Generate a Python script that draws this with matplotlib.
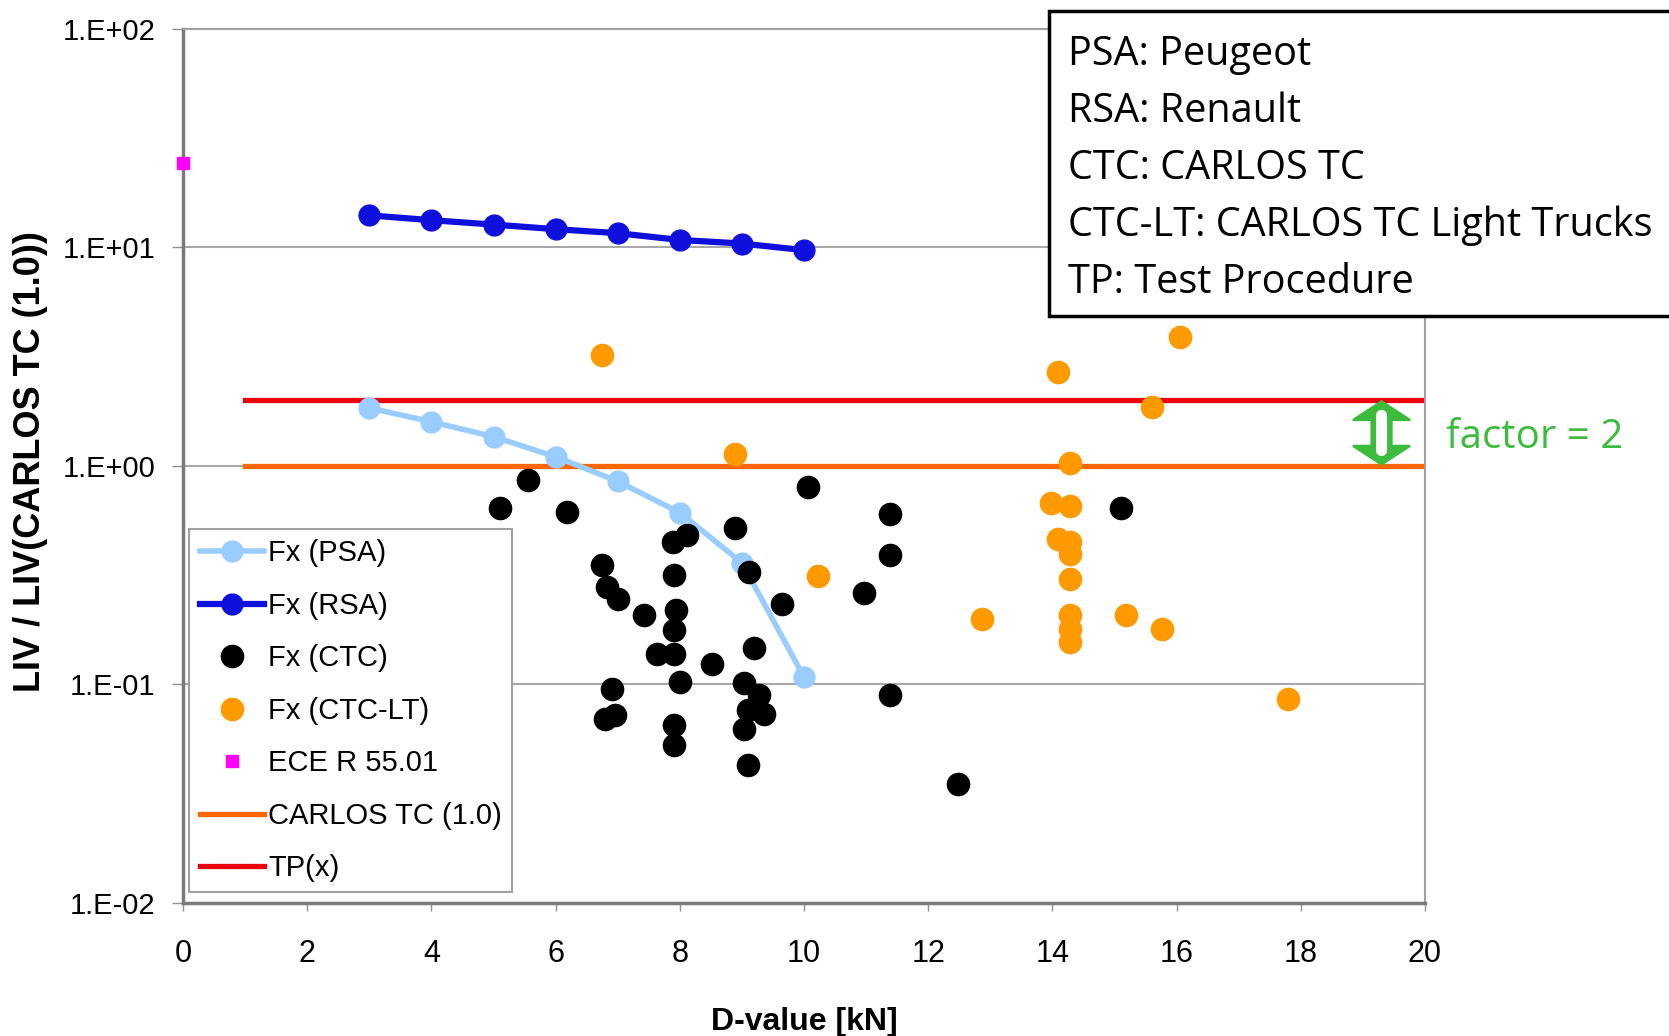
import numpy as np
import matplotlib
matplotlib.use('Agg')
import matplotlib.pyplot as plt
from matplotlib.patches import Rectangle

plt.rcParams['font.family'] = ['Liberation Sans', 'DejaVu Sans']

# Fx (PSA) and Fx (RSA) lines
d_psa = [3, 4, 5, 6, 7, 8, 9, 10]
liv_psa = [1.84, 1.59, 1.36, 1.10, 0.85, 0.61, 0.36, 0.108]
d_rsa = [3, 4, 5, 6, 7, 8, 9, 10]
liv_rsa = [14.0, 13.3, 12.7, 12.1, 11.6, 10.8, 10.4, 9.7]

# Fx (CTC) points
d_ctc = [5.10, 5.56, 6.19, 6.74, 6.82, 7.01, 7.43, 7.63, 7.89, 8.12,
         7.91, 7.94, 7.91, 7.91, 8.00, 7.91, 7.91, 6.91, 6.79, 6.96,
         8.52, 8.89, 9.12, 9.64, 10.07, 9.20, 9.04, 9.27, 9.35, 9.09,
         9.04, 9.09, 11.39, 11.39, 10.96, 11.39, 12.48, 15.10]
liv_ctc = [0.638, 0.859, 0.617, 0.351, 0.279, 0.247, 0.207, 0.138, 0.449, 0.482,
           0.316, 0.218, 0.177, 0.138, 0.103, 0.065, 0.0527, 0.0957, 0.0697, 0.0723,
           0.1245, 0.517, 0.327, 0.234, 0.80, 0.146, 0.101, 0.089, 0.0736, 0.0762,
           0.0628, 0.0427, 0.605, 0.390, 0.261, 0.089, 0.0351, 0.643]

# Fx (CTC-LT) points
d_ctclt = [6.75, 16.05, 14.09, 15.60, 8.89, 10.23, 14.28, 13.97, 14.28, 14.09,
           14.28, 14.28, 14.28, 12.86, 14.28, 14.28, 14.28, 15.18, 15.77, 17.80]
liv_ctclt = [3.23, 3.89, 2.69, 1.86, 1.13, 0.313, 1.03, 0.676, 0.653, 0.465,
             0.449, 0.397, 0.305, 0.200, 0.207, 0.180, 0.157, 0.207, 0.180, 0.0853]

# ECE R 55.01
d_ece = [0]
liv_ece = [24.3]

# reference lines
carlos_x = [1, 20]
carlos_y = [1.0, 1.0]
tp_x = [1, 20]
tp_y = [2.0, 2.0]
factor_x = 19.3

xticks = np.arange(0, 21, 2)
yticks = [1e-2, 1e-1, 1e0, 1e1, 1e2]
ytick_labels = ['1.E-02', '1.E-01', '1.E+00', '1.E+01', '1.E+02']
info_lines = ['PSA: Peugeot', 'RSA: Renault', 'CTC: CARLOS TC',
              'CTC-LT: CARLOS TC Light Trucks', 'TP: Test Procedure']

green = '#3cbc3c'

fig = plt.figure(figsize=(16.69, 10.36), dpi=100)
ax = fig.add_axes([0.1097, 0.1284, 0.7441, 0.8439])

ax.plot(d_psa, liv_psa, color='#99ccff', lw=4, marker='o', ms=15, label='Fx (PSA)', zorder=3)
ax.plot(d_rsa, liv_rsa, color='#1010dd', lw=4.5, marker='o', ms=15, label='Fx (RSA)', zorder=3)
ax.plot(d_ctc, liv_ctc, ls='none', marker='o', ms=16, color='black', label='Fx (CTC)', zorder=4)
ax.plot(d_ctclt, liv_ctclt, ls='none', marker='o', ms=16, color='#ff9900', label='Fx (CTC-LT)', zorder=4)
ax.plot(d_ece, liv_ece, ls='none', marker='s', ms=8, color='#ff00ff', label='ECE R 55.01',
        zorder=5, clip_on=False)
ax.plot(carlos_x, carlos_y, color='#ff6600', lw=3.8, label='CARLOS TC (1.0)', zorder=2)
ax.plot(tp_x, tp_y, color='#ee0010', lw=3.8, label='TP(x)', zorder=2)

# factor = 2 arrow: filled heads, hollow shaft
ax.annotate('', xy=(factor_x, tp_y[0]), xytext=(factor_x, carlos_y[0]),
            arrowprops=dict(arrowstyle='<|-|>,head_length=1.3,head_width=2.0',
                            mutation_scale=10, color=green, lw=2,
                            shrinkA=0, shrinkB=0), zorder=6)
ax.annotate('', xy=(factor_x, tp_y[0]), xytext=(factor_x, carlos_y[0]),
            arrowprops=dict(arrowstyle='-', color=green, lw=16,
                            shrinkA=11, shrinkB=11), zorder=6)
ax.annotate('', xy=(factor_x, tp_y[0]), xytext=(factor_x, carlos_y[0]),
            arrowprops=dict(arrowstyle='-', color='white', lw=8,
                            shrinkA=11, shrinkB=11), zorder=7)

ax.set_yscale('log')
ax.set_xlim(0, 20)
ax.set_ylim(1e-2, 1e2)
ax.set_xticks(xticks)
ax.set_xticklabels([str(v) for v in xticks], fontsize=22)
ax.set_yticks(yticks)
ax.set_yticklabels(ytick_labels, fontsize=21)
ax.minorticks_off()
ax.tick_params(axis='x', length=6, width=1, color='#909090', pad=20)
ax.tick_params(axis='y', length=8, width=1, color='#909090', pad=12)
ax.grid(axis='y', color='#a8a8a8', lw=1.5)
ax.set_axisbelow(True)

for s in ('left', 'bottom'):
    ax.spines[s].set_color('#7a7a7a')
    ax.spines[s].set_linewidth(2.5)
for s in ('top', 'right'):
    ax.spines[s].set_color('#a0a0a0')
    ax.spines[s].set_linewidth(1.5)

ax.set_ylabel('LIV / LIV(CARLOS TC (1.0))', fontsize=26, fontweight='bold')
ax.yaxis.label.set_va('center')
ax.yaxis.set_label_coords(-0.1232, 0.505)
ax.set_xlabel('D-value [kN]', fontsize=23, fontweight='bold')
ax.xaxis.set_label_coords(0.5, -0.136)
ax.xaxis.label.set_va('center')

leg = ax.legend(loc='lower left', bbox_to_anchor=(0.005, 0.012), borderaxespad=0,
                fontsize=21, fancybox=False, framealpha=1, edgecolor='#a0a0a0',
                handlelength=2.2, handletextpad=0.15, labelspacing=0.84,
                borderpad=0.35, markerscale=1.0)
leg.get_frame().set_linewidth(1.5)
leg.set_zorder(8)

# info box
box = Rectangle((0.6288, 0.695), 0.40, 0.2948, transform=fig.transFigure,
                facecolor='white', edgecolor='black', lw=2.5, zorder=10)
fig.add_artist(box)
for i, line in enumerate(info_lines):
    fig.text(0.6397, 0.9467 - i * 0.05498, line, fontsize=28.5, family='Open Sans',
             va='center', ha='left', zorder=11)

fig.text(0.8661, 0.577, 'factor = 2', fontsize=29, family='Open Sans',
         color=green, va='center', ha='left')

fig.savefig('out.png', dpi=100)
